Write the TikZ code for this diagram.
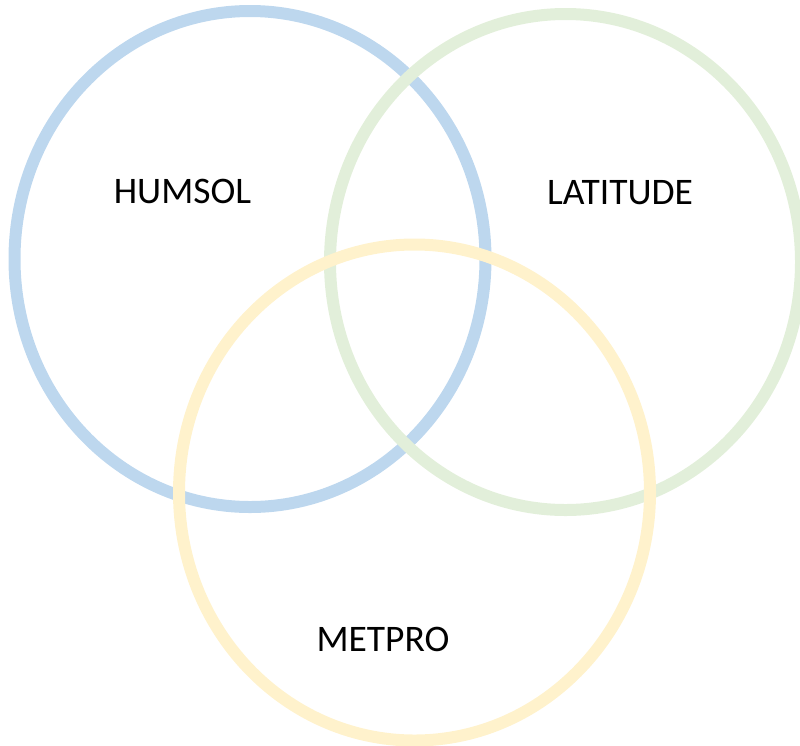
\documentclass[tikz,border=0pt]{standalone}
\usepackage{fontspec}
\setmainfont{Carlito}
\definecolor{vblue}{HTML}{BDD7EE}
\definecolor{vgreen}{HTML}{E2EFDA}
\definecolor{vyellow}{HTML}{FFF2CC}
\tikzset{
  ring/.style={line width=12pt},
  setlabel/.style={anchor=base, inner sep=0pt, font=\fontsize{37.5}{40}\selectfont, text=black}
}
\begin{document}
\begin{tikzpicture}[x=1pt,y=-1pt]
\useasboundingbox (0,0) rectangle (800,745);
\clip (0,0) rectangle (800,745);
\draw[ring, vblue] (250,259) ellipse [x radius=235.5pt, y radius=248pt];
\draw[ring, vgreen] (565.5,262) ellipse [x radius=235.5pt, y radius=248pt];
\draw[ring, vyellow] (414.5,492.5) ellipse [x radius=235.5pt, y radius=248pt];
\node[setlabel] (humsol) at (182.5,203) {HUMSOL};
\node[setlabel] (latitude) at (620,204) {LATITUDE};
\node[setlabel] (metpro) at (383,651) {METPRO};
\end{tikzpicture}
\end{document}
